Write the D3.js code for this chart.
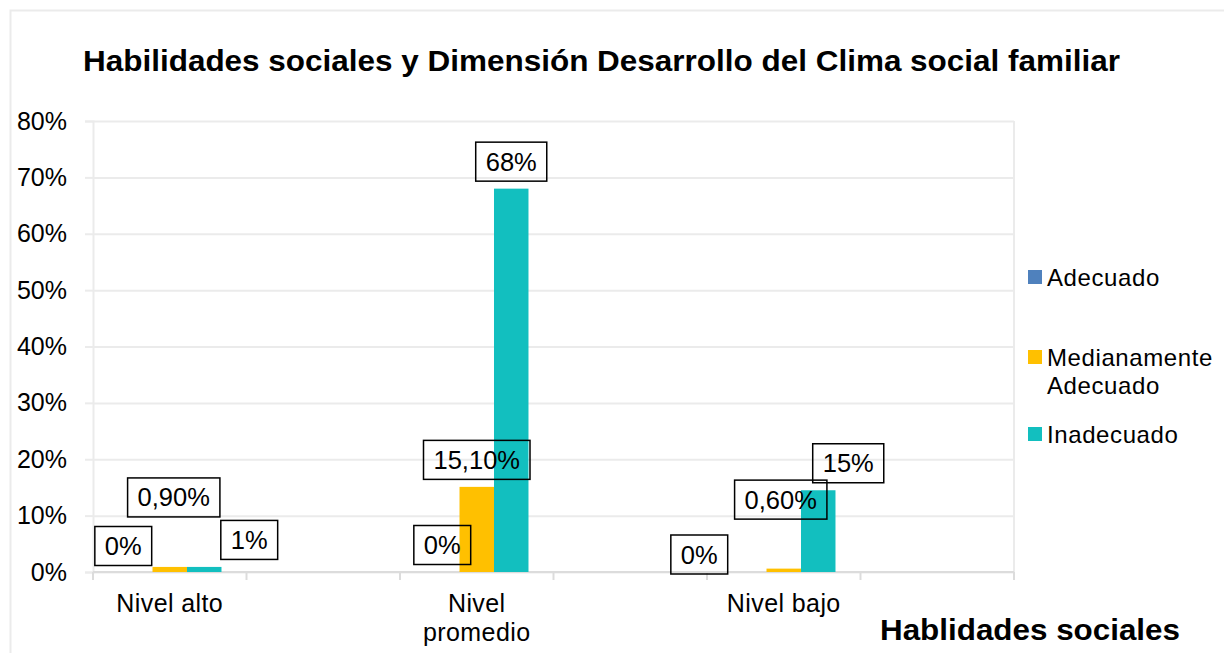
<!DOCTYPE html>
<html>
<head>
<meta charset="utf-8">
<script src="https://cdnjs.cloudflare.com/ajax/libs/d3/7.8.5/d3.min.js"></script>
<style>
  body { margin: 0; background: #fff; }
  text { font-family: "Liberation Sans", Arial, sans-serif; fill: #000; }
</style>
</head>
<body>
<div id="chart"></div>
<script>
// categories (every other slot is an empty category, as in the original sheet)
const categories = ["Nivel alto", "", "Nivel promedio", "", "Nivel bajo", ""];
const seriesNames = ["Adecuado", "Medianamente Adecuado", "Inadecuado"];
const seriesColors = ["#4F81BD", "#FFC000", "#12BFBF"];

// values in %
const adecuado = [0, null, 0, null, 0, null];
const medianamente = [0.9, null, 15.1, null, 0.6, null];
const inadecuado = [0.9, null, 68, null, 14.5, null];

// data label texts
const adecuadoLabels = ["0%", "", "0%", "", "0%", ""];
const medianamenteLabels = ["0,90%", "", "15,10%", "", "0,60%", ""];
const inadecuadoLabels = ["1%", "", "68%", "", "15%", ""];

const yTicks = [0, 10, 20, 30, 40, 50, 60, 70, 80];

const title = "Habilidades sociales y Dimensión Desarrollo del Clima social familiar";
const xTitle = "Hablidades sociales";

// manual label nudges (labels were dragged around in the original)
const labelNudge = [
    [[-12, 1], null, [0, 0], null, [-50, 9.5], null],
    [[4, -42.5], null, [0, 0], null, [-3, -42], null],
    [[45, 0], null, [0, 0], null, [30, 0], null]
];

const values = [adecuado, medianamente, inadecuado];
const labels = [adecuadoLabels, medianamenteLabels, inadecuadoLabels];

var W = 1224, H = 653;
var margin = {top: 121, left: 93, right: 210, bottom: 81};
var width = W - margin.left - margin.right,
    height = H - margin.top - margin.bottom;

var svg = d3.select("#chart").append("svg")
    .attr("width", W)
    .attr("height", H);

// outer chart frame
svg.append("rect")
    .attr("x", 10.5).attr("y", 10.5)
    .attr("width", W + 20).attr("height", H + 20)
    .attr("fill", "none")
    .attr("stroke", "#ebebeb")
    .attr("stroke-width", 2);

// title
svg.append("text")
    .attr("x", 83).attr("y", 71)
    .attr("font-size", 29)
    .attr("font-weight", "bold")
    .attr("textLength", 1037)
    .attr("lengthAdjust", "spacingAndGlyphs")
    .text(title);

var g = svg.append("g")
    .attr("transform", "translate(" + margin.left + "," + margin.top + ")");

var x = d3.scaleBand()
    .domain(d3.range(categories.length))
    .range([0, width]);

var x1 = d3.scaleBand()
    .domain(d3.range(seriesNames.length))
    .range([x.bandwidth() * 0.163, x.bandwidth() * 0.837]);

var y = d3.scaleLinear()
    .domain([0, 80])
    .range([height, 0]);

// gridlines
g.append("g")
    .attr("class", "grid")
    .call(d3.axisLeft(y).tickValues(yTicks).tickSize(-width).tickFormat(""))
    .call(function(s) {
        s.select(".domain").remove();
        s.selectAll("line").attr("stroke", "#ebebeb").attr("stroke-width", 2);
    });

// y axis
g.append("g")
    .call(d3.axisLeft(y).tickValues(yTicks).tickSize(8).tickPadding(18)
        .tickFormat(function(d) { return d + "%"; }))
    .call(function(s) {
        s.select(".domain").attr("stroke", "#ebebeb").attr("stroke-width", 2);
        s.selectAll("line").attr("stroke", "#ebebeb").attr("stroke-width", 2);
        s.selectAll("text").attr("font-size", 25).attr("font-family", null);
    });

// right border of plot area
g.append("line")
    .attr("x1", width).attr("x2", width)
    .attr("y1", 0).attr("y2", height)
    .attr("stroke", "#ebebeb").attr("stroke-width", 2);

// x axis line with ticks at category boundaries
g.append("line")
    .attr("x1", 0).attr("x2", width)
    .attr("y1", height).attr("y2", height)
    .attr("stroke", "#dcdcdc").attr("stroke-width", 2);

var bounds = d3.range(categories.length).map(function(i) { return x(i); }).concat([width]);
g.selectAll(".xtick")
    .data(bounds)
    .enter().append("line")
    .attr("x1", function(d) { return d; })
    .attr("x2", function(d) { return d; })
    .attr("y1", height).attr("y2", height + 8)
    .attr("stroke", "#dcdcdc").attr("stroke-width", 2);

// wrap a string into lines no wider than maxW
function wrapWords(str, maxW, size, ls) {
    var tmp = svg.append("text").attr("font-size", size).attr("letter-spacing", ls || 0);
    var words = str.split(" "), lines = [], cur = "";
    words.forEach(function(w) {
        var test = cur ? cur + " " + w : w;
        tmp.text(test);
        if (tmp.node().getComputedTextLength() > maxW && cur) {
            lines.push(cur);
            cur = w;
        } else {
            cur = test;
        }
    });
    if (cur) lines.push(cur);
    tmp.remove();
    return lines;
}

// x labels
categories.forEach(function(c, i) {
    if (!c) return;
    var lines = wrapWords(c, 145, 25, 0.4);
    var t = g.append("text")
        .attr("x", x(i) + x.bandwidth() / 2)
        .attr("y", height + 40)
        .attr("text-anchor", "middle")
        .attr("font-size", 25)
        .attr("letter-spacing", 0.4);
    lines.forEach(function(l, k) {
        t.append("tspan")
            .attr("x", x(i) + x.bandwidth() / 2)
            .attr("dy", k === 0 ? 0 : 29)
            .text(l);
    });
});

// bars
values.forEach(function(vals, s) {
    g.append("g")
        .selectAll("rect")
        .data(vals.map(function(v, i) { return {i: i, v: v}; }).filter(function(d) { return d.v !== null; }))
        .enter().append("rect")
        .attr("x", function(d) { return x(d.i) + x1(s); })
        .attr("width", x1.bandwidth())
        .attr("y", function(d) { return y(d.v); })
        .attr("height", function(d) { return height - y(d.v); })
        .attr("fill", seriesColors[s]);
});

// data labels with outlined (unfilled) boxes
values.forEach(function(vals, s) {
    vals.forEach(function(v, i) {
        if (v === null) return;
        var nudge = labelNudge[s][i] || [0, 0];
        var cx = x(i) + x1(s) + x1.bandwidth() / 2 + nudge[0];
        var cy = y(v) - 27 + nudge[1];
        var lg = g.append("g");
        var box = lg.append("rect");
        var t = lg.append("text")
            .attr("x", cx).attr("y", cy)
            .attr("text-anchor", "middle")
            .attr("dominant-baseline", "central")
            .attr("font-size", 25.5)
            .text(labels[s][i]);
        var tw = t.node().getComputedTextLength();
        box.attr("x", cx - tw / 2 - 10)
            .attr("y", cy - 19.5)
            .attr("width", tw + 20)
            .attr("height", 39)
            .attr("fill", "none")
            .attr("stroke", "#000")
            .attr("stroke-width", 1.5);
    });
});

// legend
var legendY = [277, 357, 434];
var legend = svg.append("g");
seriesNames.forEach(function(name, s) {
    legend.append("rect")
        .attr("x", 1028).attr("y", legendY[s] - 7)
        .attr("width", 14).attr("height", 14)
        .attr("fill", seriesColors[s]);
    var lines = wrapWords(name, 175, 24, 0.6);
    var t = legend.append("text")
        .attr("x", 1047).attr("y", legendY[s])
        .attr("dominant-baseline", "central")
        .attr("font-size", 24)
        .attr("letter-spacing", 0.6);
    lines.forEach(function(l, k) {
        t.append("tspan")
            .attr("x", 1047)
            .attr("dy", k === 0 ? 0 : 28)
            .text(l);
    });
});

// x axis title
svg.append("text")
    .attr("x", 880).attr("y", 640)
    .attr("font-size", 29)
    .attr("font-weight", "bold")
    .attr("textLength", 300)
    .attr("lengthAdjust", "spacingAndGlyphs")
    .text(xTitle);
</script>
</body>
</html>
